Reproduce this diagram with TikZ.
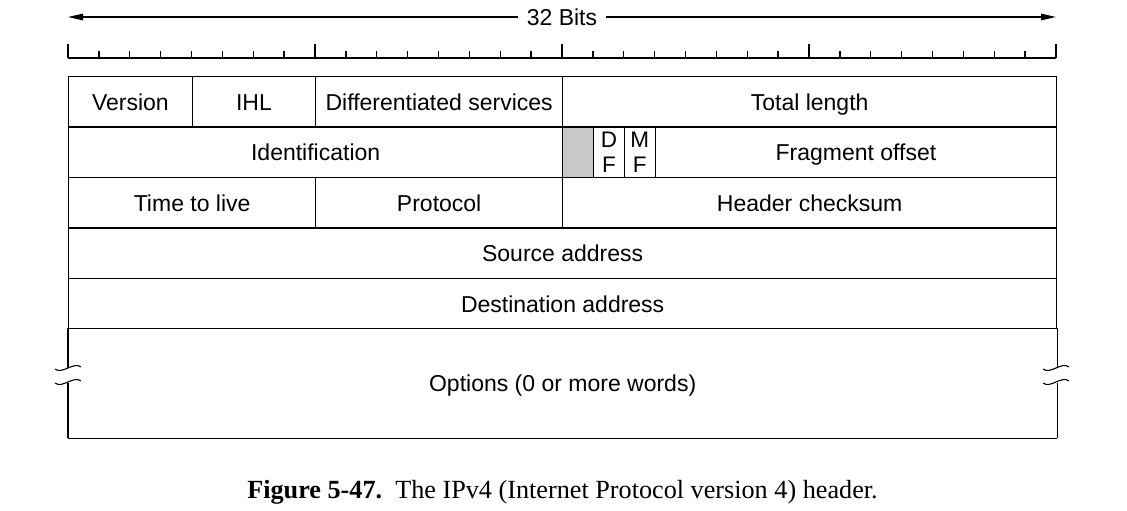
\documentclass[tikz,border=0pt]{standalone}
\usepackage{fontspec}
\setmainfont{Liberation Serif}
\newfontfamily\fieldfont{Liberation Sans}
\usetikzlibrary{arrows.meta,calc}

\begin{document}
\begin{tikzpicture}[x=1pt, y=-1pt, >={Triangle[length=15pt,width=6.5pt]}, line width=1.3pt,
        every node/.style={font=\fieldfont\fontsize{23}{25}\selectfont},
        field/.style={draw, rectangle, anchor=north west, inner sep=0pt, minimum height=50.4pt},
        cell/.style={field, text height=20pt, text depth=2.8pt},
        flag/.style={field, minimum width=30.875pt, align=center, font=\fieldfont\fontsize{22.5}{24.5}\selectfont}]
        \useasboundingbox (0,0) rectangle (1127,511);

        % width scale
        \node[inner xsep=8pt] (bits) at (562,17) {32 Bits};
        \coordinate (bitsL) at (68,17);
        \coordinate (bitsR) at (1056,17);
        \draw[->] (bits) -- (bitsL);
        \draw[->] (bits) -- (bitsR);

        % bit ruler
        \draw (68,58) -- (1056,58);
        \foreach \b in {0,...,32} {
            \pgfmathsetmacro{\tk}{mod(\b,8)==0 ? 14 : 7}
            \draw (68+\b*30.875,58) -- ++(0,-\tk);
        }

        % header fields
        \node[cell, minimum width=123.5pt] (ver) at (68,76) {Version};
        \node[cell, minimum width=123.5pt] (ihl) at (191.5,76) {IHL};
        \node[cell, minimum width=247pt] (dsrv) at (315,76) {Differentiated services};
        \node[cell, minimum width=494pt] (tlen) at (562,76) {Total length};

        \node[cell, minimum width=494pt] (ident) at (68,126.4) {Identification};
        \node[field, minimum width=30.875pt, fill=black!21] (rsv) at (562,126.4) {};
        \node[flag] (df) at (592.875,126.4) {D\\F};
        \node[flag] (mf) at (623.75,126.4) {M\\F};
        \node[cell, minimum width=401.4pt] (foff) at (654.6,126.4) {Fragment offset};

        \node[cell, minimum width=247pt] (ttl) at (68,176.8) {Time to live};
        \node[cell, minimum width=247pt] (proto) at (315,176.8) {Protocol};
        \node[cell, minimum width=494pt] (hcs) at (562,176.8) {Header checksum};

        \node[cell, minimum width=988pt] (src) at (68,227.2) {Source address};
        \node[cell, minimum width=988pt] (dst) at (68,277.6) {Destination address};

        % options, with broken sides
        \node[cell, draw=none, minimum width=988pt, minimum height=109pt] (opt) at (68,328) {Options (0 or more words)};
        \draw (opt.south west) -- (opt.south east);
        \draw (opt.north west) -- ++(0,40);
        \draw (opt.south west) -- ++(0,-55);
        \draw (opt.north east) -- ++(0,40);
        \draw (opt.south east) -- ++(0,-55);
        \foreach \bx in {68,1056} {
            \foreach \by in {368,382} {
                \draw[line width=1.1pt, shift={(\bx,\by)}] (-13,1) .. controls (-6,7) and (6,-7) .. (13,-1);
            }
        }

        % caption
        \node[font=\rmfamily\fontsize{26.2}{28}\selectfont] (caption) at (562.5,492) {\textbf{Figure 5-47.}\enspace The IPv4 (Internet Protocol version 4) header.};
    \end{tikzpicture}
\end{document}
